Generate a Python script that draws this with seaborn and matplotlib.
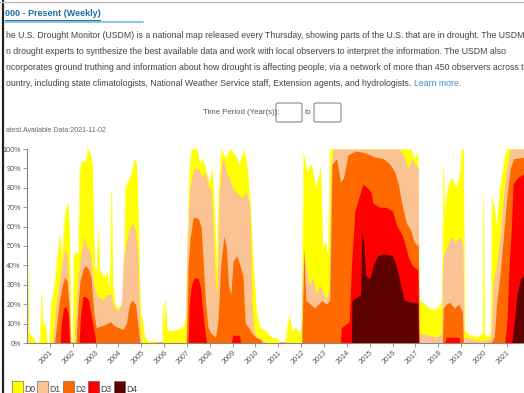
import matplotlib
matplotlib.use('Agg')
import matplotlib.pyplot as plt
import seaborn as sns
from matplotlib.patches import Rectangle, FancyBboxPatch
from matplotlib.lines import Line2D

# ---------------- data (year, % of area in category or worse) ----------------
LEVELS = ['D0', 'D1', 'D2', 'D3', 'D4']
COLORS = ['#FFFF00', '#F9C394', '#FF6A00', '#FF0000', '#5C0000']

D0 = [(2000.00, 45), (2000.03, 45), (2000.07, 5), (2000.25, 3), (2000.40, 0), (2000.55, 0),
      (2000.60, 12), (2000.64, 25), (2000.70, 8), (2000.80, 10), (2000.88, 0), (2000.98, 0),
      (2001.05, 20), (2001.20, 30), (2001.32, 45), (2001.45, 55), (2001.52, 40), (2001.62, 62),
      (2001.72, 70), (2001.80, 72), (2001.86, 55), (2001.92, 0), (2002.00, 0), (2002.05, 45),
      (2002.15, 47), (2002.25, 46), (2002.30, 88), (2002.40, 94), (2002.55, 93), (2002.68, 100),
      (2002.78, 97), (2002.86, 90), (2002.95, 40), (2003.05, 37), (2003.12, 58), (2003.18, 38),
      (2003.35, 34), (2003.50, 36), (2003.58, 28), (2003.64, 40), (2003.70, 79), (2003.75, 30),
      (2003.85, 20), (2003.95, 18), (2004.10, 19), (2004.22, 22), (2004.30, 80), (2004.45, 84),
      (2004.58, 88), (2004.70, 95), (2004.80, 92), (2004.88, 60), (2004.96, 15), (2005.05, 12),
      (2005.15, 3), (2005.30, 1), (2005.65, 1), (2005.78, 0), (2005.92, 0), (2005.96, 20),
      (2006.00, 8), (2006.06, 22), (2006.12, 7), (2006.30, 6), (2006.60, 7), (2006.85, 8),
      (2006.98, 15), (2007.05, 60), (2007.10, 88), (2007.20, 100), (2007.45, 100), (2007.55, 92),
      (2007.70, 95), (2007.85, 88), (2008.00, 82), (2008.10, 90), (2008.20, 70), (2008.30, 36),
      (2008.40, 80), (2008.50, 100), (2008.70, 95), (2008.90, 100), (2009.10, 97), (2009.30, 92),
      (2009.50, 100), (2009.65, 88), (2009.78, 70), (2009.90, 40), (2010.05, 15), (2010.20, 8),
      (2010.45, 6), (2010.70, 3), (2010.95, 2), (2011.10, 0), (2011.30, 0), (2011.40, 10),
      (2011.50, 14), (2011.60, 6), (2011.75, 8), (2011.95, 5), (2012.03, 8), (2012.10, 98),
      (2012.25, 88), (2012.45, 92), (2012.65, 80), (2012.85, 90), (2012.95, 48), (2013.05, 52),
      (2013.18, 45), (2013.26, 100), (2016.80, 100), (2016.95, 95), (2017.10, 98), (2017.16, 22),
      (2017.40, 20), (2017.70, 17), (2018.00, 18), (2018.18, 22), (2018.22, 92), (2018.28, 65),
      (2018.35, 75), (2018.45, 82), (2018.60, 85), (2018.80, 80), (2018.95, 88), (2019.02, 100),
      (2019.10, 100), (2019.15, 6), (2019.40, 4), (2019.70, 3), (2019.95, 5), (2019.98, 75),
      (2020.02, 5), (2020.15, 3), (2020.30, 5), (2020.35, 75), (2020.45, 70), (2020.55, 60),
      (2020.70, 80), (2020.90, 95), (2021.00, 100), (2021.84, 100)]

D1 = [(2001.10, 0), (2001.18, 8), (2001.28, 20), (2001.40, 30), (2001.55, 42), (2001.65, 48),
      (2001.75, 46), (2001.84, 30), (2001.90, 0), (2002.05, 0), (2002.12, 12), (2002.22, 32),
      (2002.35, 45), (2002.50, 55), (2002.62, 50), (2002.78, 46), (2002.92, 30), (2003.05, 25),
      (2003.30, 22), (2003.50, 25), (2003.68, 25), (2003.82, 18), (2004.00, 17), (2004.15, 20),
      (2004.25, 45), (2004.40, 55), (2004.52, 60), (2004.62, 62), (2004.75, 58), (2004.85, 45),
      (2004.94, 10), (2005.02, 0), (2006.95, 0), (2007.03, 50), (2007.12, 80), (2007.30, 90),
      (2007.50, 90), (2007.65, 86), (2007.80, 88), (2007.95, 80), (2008.05, 80), (2008.15, 60),
      (2008.25, 30), (2008.32, 25), (2008.42, 75), (2008.52, 93), (2008.62, 95), (2008.72, 88),
      (2008.85, 85), (2009.00, 80), (2009.20, 77), (2009.40, 75), (2009.60, 78), (2009.75, 70),
      (2009.85, 20), (2009.95, 5), (2010.10, 3), (2010.30, 2), (2010.45, 0), (2012.02, 0),
      (2012.08, 40), (2012.12, 48), (2012.20, 40), (2012.35, 30), (2012.50, 34), (2012.65, 25),
      (2012.80, 30), (2012.95, 27), (2013.10, 22), (2013.22, 28), (2013.30, 88), (2013.40, 100),
      (2016.30, 100), (2016.50, 96), (2016.70, 90), (2016.85, 95), (2017.00, 92), (2017.12, 90),
      (2017.16, 5), (2017.60, 4), (2017.90, 3), (2018.15, 5), (2018.22, 45), (2018.40, 50),
      (2018.55, 55), (2018.75, 52), (2018.95, 55), (2019.08, 50), (2019.12, 3), (2019.50, 2),
      (2019.90, 1), (2020.30, 2), (2020.40, 30), (2020.55, 40), (2020.70, 55), (2020.85, 75),
      (2021.00, 90), (2021.15, 100), (2021.84, 100)]

D2 = [(2001.20, 0), (2001.30, 10), (2001.42, 22), (2001.55, 30), (2001.65, 34), (2001.75, 32),
      (2001.84, 20), (2001.90, 0), (2002.15, 0), (2002.22, 18), (2002.32, 32), (2002.45, 38),
      (2002.55, 40), (2002.70, 38), (2002.80, 34), (2002.93, 15), (2003.03, 8), (2003.30, 9),
      (2003.50, 10), (2003.65, 11), (2003.80, 9), (2004.00, 8), (2004.20, 7), (2004.35, 10),
      (2004.48, 20), (2004.60, 22), (2004.75, 20), (2004.85, 10), (2004.94, 0), (2006.98, 0),
      (2007.05, 40), (2007.15, 55), (2007.28, 65), (2007.50, 64), (2007.62, 60), (2007.72, 40),
      (2007.82, 20), (2007.92, 8), (2008.05, 5), (2008.25, 3), (2008.35, 10), (2008.48, 40),
      (2008.62, 55), (2008.72, 50), (2008.82, 30), (2008.92, 25), (2009.02, 42), (2009.18, 45),
      (2009.32, 40), (2009.45, 35), (2009.55, 10), (2009.70, 8), (2009.85, 5), (2010.00, 3),
      (2010.20, 2), (2010.30, 0), (2012.02, 0), (2012.06, 15), (2012.12, 48), (2012.20, 22),
      (2012.40, 20), (2012.60, 18), (2012.90, 22), (2013.10, 20), (2013.25, 22), (2013.35, 92),
      (2013.55, 95), (2013.72, 83), (2013.85, 85), (2014.05, 97), (2014.40, 99), (2014.80, 98),
      (2015.20, 96), (2015.60, 95), (2015.90, 92), (2016.10, 88), (2016.25, 82), (2016.40, 72),
      (2016.60, 62), (2016.80, 58), (2016.95, 52), (2017.12, 50), (2017.16, 0), (2018.18, 0),
      (2018.22, 18), (2018.35, 20), (2018.50, 21), (2018.70, 18), (2018.90, 20), (2019.05, 16),
      (2019.10, 0), (2020.30, 0), (2020.45, 3), (2020.55, 20), (2020.70, 35), (2020.85, 55),
      (2021.00, 75), (2021.15, 90), (2021.30, 95), (2021.84, 96)]

D3 = [(2001.45, 0), (2001.50, 10), (2001.60, 18), (2001.70, 19), (2001.80, 15), (2001.87, 0),
      (2002.28, 0), (2002.35, 15), (2002.45, 24), (2002.55, 24), (2002.70, 22), (2002.80, 15),
      (2002.95, 5), (2003.02, 0), (2007.05, 0), (2007.10, 20), (2007.20, 30), (2007.35, 34),
      (2007.50, 33), (2007.60, 28), (2007.70, 15), (2007.80, 5), (2007.86, 0), (2008.95, 0),
      (2009.00, 4), (2009.30, 4), (2009.35, 0), (2013.72, 0), (2013.76, 8), (2014.10, 11),
      (2014.20, 40), (2014.35, 68), (2014.55, 76), (2014.70, 82), (2014.90, 80), (2015.05, 78),
      (2015.15, 72), (2015.45, 70), (2015.70, 70), (2016.00, 68), (2016.20, 60), (2016.45, 55),
      (2016.67, 45), (2016.85, 40), (2017.10, 38), (2017.15, 0), (2018.30, 0), (2018.34, 3),
      (2018.90, 3), (2018.95, 0), (2020.90, 0), (2021.00, 10), (2021.10, 40), (2021.20, 60),
      (2021.28, 82), (2021.45, 85), (2021.84, 88)]

D4 = [(2014.20, 0), (2014.22, 22), (2014.60, 25), (2014.66, 58), (2014.75, 50), (2014.82, 35),
      (2015.00, 33), (2015.15, 40), (2015.35, 45), (2015.60, 46), (2016.00, 45), (2016.15, 40),
      (2016.30, 33), (2016.50, 22), (2016.80, 21), (2017.10, 21), (2017.13, 0), (2021.22, 0),
      (2021.30, 8), (2021.45, 25), (2021.60, 33), (2021.84, 36)]

YEAR_TICKS = list(range(2001, 2022))
PCT_TICKS = list(range(0, 101, 10))

TITLE = "000 - Present (Weekly)"
PARAGRAPH = [
    "he U.S. Drought Monitor (USDM) is a national map released every Thursday, showing parts of the U.S. that are in drought. The USDM rel",
    "n drought experts to synthesize the best available data and work with local observers to interpret the information. The USDM also",
    "ncorporates ground truthing and information about how drought is affecting people, via a network of more than 450 observers across t",
    "ountry, including state climatologists, National Weather Service staff, Extension agents, and hydrologists.",
]
LEARN_MORE = "Learn more."
TIME_PERIOD = "Time Period (Year(s)):"
LATEST = "atest Available Data:2021-11-02"

# ---------------- figure ----------------
W, H = 524, 393
sns.set_theme(style='white')
plt.rcParams['font.family'] = ['Liberation Sans Narrow', 'Liberation Sans', 'DejaVu Sans']

fig = plt.figure(figsize=(W / 100, H / 100), dpi=100)
fig.patch.set_facecolor('white')


def fx(x):
    return x / W


def fy(y):
    return 1 - y / H


X0, X1 = 27, 526
YB, YT = 343, 149
ax = fig.add_axes([fx(X0), fy(YB), (X1 - X0) / W, (YB - YT) / H])
ax.set_facecolor('white')

for pts, col in zip([D0, D1, D2, D3, D4], COLORS):
    t = [p[0] for p in pts]
    v = [p[1] for p in pts]
    sns.lineplot(x=t, y=v, color=col, lw=0.3, ax=ax, estimator=None, sort=False,
                 legend=False, zorder=0.5)
    ax.fill_between(t, 0, v, color=col, lw=0, zorder=1)

ax.set_xlim(2000.0, 2021.84)
ax.set_ylim(0, 100)
for s in ['top', 'right']:
    ax.spines[s].set_visible(False)
for s in ['left', 'bottom']:
    ax.spines[s].set_color('#888888')
    ax.spines[s].set_linewidth(0.8)
    ax.spines[s].set_zorder(3)
ax.set_yticks(PCT_TICKS)
ax.set_yticklabels([f"{p}%" for p in PCT_TICKS])
ax.set_xticks(YEAR_TICKS)
ax.set_xticklabels([str(y) for y in YEAR_TICKS], rotation=45, ha='right', va='top',
                   rotation_mode='anchor')
ax.tick_params(axis='both', which='both', length=3, width=0.6, color='#888888',
               labelsize=5.2, labelcolor='#555555', pad=1.5, left=True, bottom=True)
ax.set_xlabel('')
ax.set_ylabel('')
ax.grid(False)

# ---------------- page decorations ----------------
fig.add_artist(Line2D([fx(2.5), fx(2.5)], [0, 1], color='#222222', lw=1.6))
fig.add_artist(Line2D([0, 1], [fy(1.5), fy(1.5)], color='#bbbbbb', lw=1.0))

fig.text(fx(5), fy(14), TITLE, fontsize=6.5, fontweight='bold', color='#1f6fa5',
         va='center', ha='left')
fig.add_artist(Line2D([fx(5), fx(143)], [fy(21.5), fy(21.5)], color='#8cc3e0', lw=1.4))
fig.add_artist(Line2D([fx(5), fx(100)], [fy(20.3), fy(20.3)], color='#2a6e9e', lw=0.8))

renderer = fig.canvas.get_renderer()

# paragraph size fitted from line 2 (visible from x=6 to x=505)
probe = fig.text(fx(6), fy(52), PARAGRAPH[1], fontsize=6.5, color='#444444', va='center', ha='left')
w = probe.get_window_extent(renderer).width
psize = 6.5 * (505 - 6) / w
probe.remove()

line_y = [36, 52, 68, 84]
last = None
for s, yy in zip(PARAGRAPH, line_y):
    last = fig.text(fx(6), fy(yy), s, fontsize=psize, color='#444444', va='center', ha='left')
ext = last.get_window_extent(renderer)
fig.text(fx(ext.x1 + 3), fy(84), LEARN_MORE, fontsize=psize, color='#3d8fc6', va='center', ha='left')

fig.text(fx(203), fy(113), TIME_PERIOD, fontsize=5.6, color='#555555', va='center', ha='left')
for bx0, bx1 in [(276, 302), (314, 341)]:
    fig.add_artist(FancyBboxPatch((fx(bx0), fy(122)), fx(bx1 - bx0), (122 - 103) / H,
                                  boxstyle='round,pad=0,rounding_size=0.004',
                                  transform=fig.transFigure, fc='white', ec='#8a8a8a', lw=0.8))
fig.text(fx(305), fy(113), "to", fontsize=5.6, color='#555555', va='center', ha='left')

fig.text(fx(6), fy(130), LATEST, fontsize=5.0, color='#666666', va='center', ha='left')

# legend
leg_x = [12, 37, 63, 88, 114]
for lx, lab, col in zip(leg_x, LEVELS, COLORS):
    fig.add_artist(Rectangle((fx(lx), fy(395)), fx(11), 14 / H, transform=fig.transFigure,
                             fc=col, ec='#555555', lw=0.4))
    fig.text(fx(lx + 12.5), fy(389), lab, fontsize=6.2, color='#444444', va='center', ha='left')

fig.savefig('out.png', dpi=100, facecolor='white')
